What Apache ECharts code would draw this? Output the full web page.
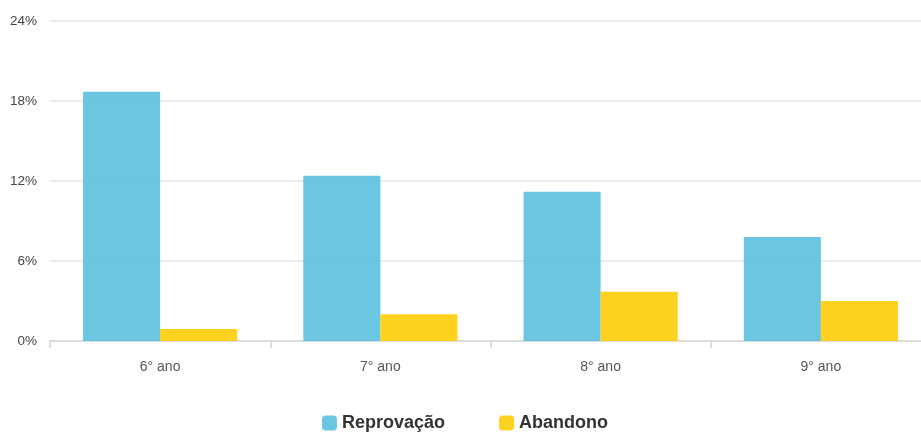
<!DOCTYPE html>
<html><head><meta charset="utf-8">
<script src="https://cdn.jsdelivr.net/npm/echarts@6/dist/echarts.min.js"></script>
<style>html,body{margin:0;padding:0;background:#fff}#c{width:921px;height:434px}</style>
</head><body><div id="c"></div>
<script>
const categories = ['6° ano', '7° ano', '8° ano', '9° ano'];
const reprovacao = [18.7, 12.4, 11.2, 7.8];
const abandono = [0.9, 2.0, 3.7, 3.0];
const yTicks = [0, 6, 12, 18, 24];

const chart = echarts.init(document.getElementById('c'));
chart.setOption({
  animation: false,
  textStyle: { fontFamily: 'Liberation Sans, Arial, sans-serif' },
  grid: { left: 50, width: 881, top: 21, bottom: 93, containLabel: false, outerBoundsMode: 'none' },
  legend: {
    left: 317, top: 409,
    itemWidth: 15, itemHeight: 15, itemGap: 54,
    icon: 'roundRect',
    textStyle: { fontSize: 18, fontWeight: 'bold', color: '#333' },
    data: ['Reprovação', 'Abandono']
  },
  xAxis: {
    type: 'category', data: categories,
    axisLine: { lineStyle: { color: '#dcdcdc', width: 2 } },
    axisTick: { show: true, length: 7, lineStyle: { color: '#dcdcdc', width: 2 } },
    axisLabel: { fontSize: 14, color: '#555', margin: 19 }
  },
  yAxis: {
    type: 'value', min: yTicks[0], max: yTicks[yTicks.length - 1], interval: 6,
    axisLine: { show: false }, axisTick: { show: false },
    splitLine: { lineStyle: { color: '#e6e6e6', width: 1.5 } },
    axisLabel: { fontSize: 13.5, color: '#444', margin: 13, formatter: '{value}%' }
  },
  series: [
    { name: 'Reprovação', type: 'bar', data: reprovacao, barGap: '0%', barCategoryGap: '30%',
      itemStyle: { color: '#5bc0de', opacity: 0.9 } },
    { name: 'Abandono', type: 'bar', data: abandono,
      itemStyle: { color: '#ffcc00', opacity: 0.88 } }
  ]
});
</script></body></html>
